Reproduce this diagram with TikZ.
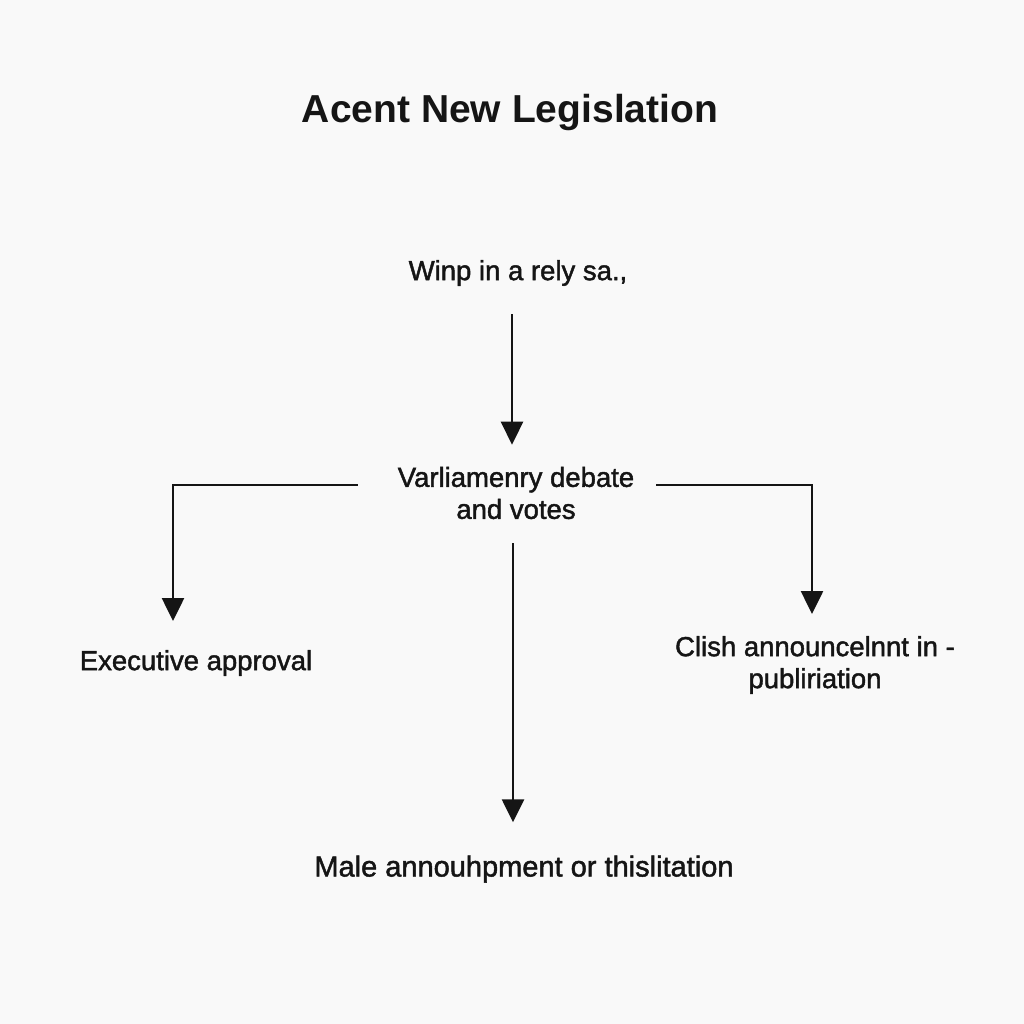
\documentclass[tikz,border=0pt]{standalone}
\usepackage{fontspec}
\setmainfont{Liberation Sans}
\newfontfamily\semib[FakeBold=1.6]{Liberation Sans}
\usetikzlibrary{arrows.meta}
\definecolor{bg}{HTML}{F9F9F9}
\definecolor{ink}{HTML}{151515}
\begin{document}
\begin{tikzpicture}[x=1pt,y=-1pt,
  lbl/.style={text=ink,font=\semib\fontsize{27.5}{32}\selectfont,align=center,inner sep=0pt},
  ttl/.style={text=ink,font=\fontsize{39}{44}\selectfont\bfseries,inner sep=0pt},
  arr/.style={draw=ink,line width=2.6pt,-{Triangle[width=22pt,length=23pt]}}]
\fill[bg] (0,0) rectangle (1024,1024);
\useasboundingbox (0,0) rectangle (1024,1024);
\node[ttl] (title) at (510,113) {Acent New Legislation};
\node[lbl] (top) at (518,273) {Winp in a rely sa.,};
\node[lbl] (mid) at (516,493) {Varliamenry debate\\and votes};
\node[lbl] (left) at (196,663) {Executive approval};
\node[lbl] (right) at (815,665) {Clish announcelnnt in -\\publiriation};
\node[lbl,font=\semib\fontsize{29}{32}\selectfont] (bot) at (524,869) {Male annouhpment or thislitation};
\coordinate (lend) at (173,621);
\coordinate (rend) at (812,614);
\draw[arr] ([xshift=-6pt,yshift=-28pt]top.south) -- ([xshift=-4pt,yshift=22pt]mid.north);
\draw[arr] ([xshift=-40pt,yshift=8pt]mid.west) -| (lend);
\draw[arr] ([xshift=22pt,yshift=8pt]mid.east) -| (rend);
\draw[arr] ([xshift=-3pt,yshift=-24pt]mid.south) -- ([xshift=-11pt,yshift=33pt]bot.north);
\end{tikzpicture}
\end{document}
